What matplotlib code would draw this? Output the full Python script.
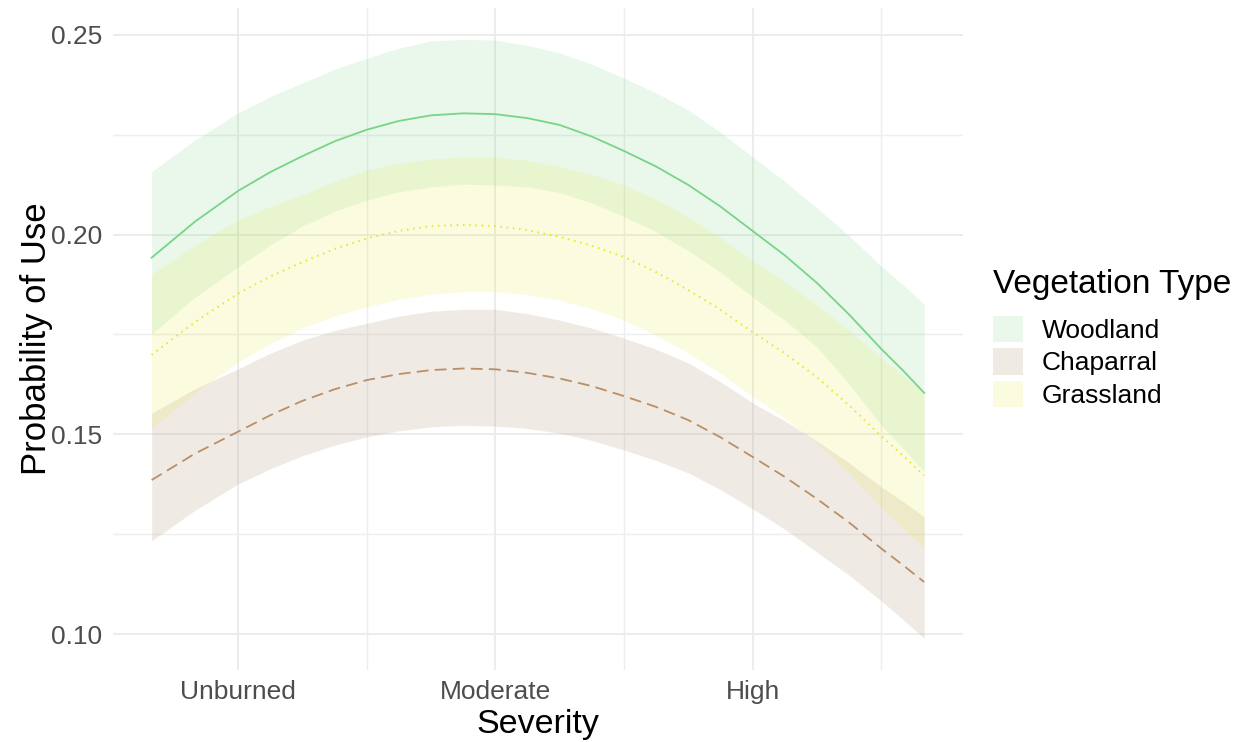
import matplotlib
matplotlib.use("Agg")
import matplotlib.pyplot as plt
from matplotlib.patches import Patch
from matplotlib.ticker import FixedLocator

plt.rcParams['font.family'] = ['Liberation Sans', 'DejaVu Sans']
plt.rcParams['lines.scale_dashes'] = False

# severity (1 = Unburned, 2 = Moderate, 3 = High)
severity = [0.664, 0.832, 1.0, 1.125, 1.25, 1.375, 1.5, 1.625, 1.75, 1.875, 2.0, 2.125, 2.25,
            2.375, 2.5, 2.625, 2.75, 2.875, 3.0, 3.125, 3.25, 3.375, 3.5, 3.583, 3.667]
tick_pos = [1, 2, 3]
tick_labels = ["Unburned", "Moderate", "High"]

# predicted probability of use and confidence band, per vegetation type
woodland_fit = [0.1942, 0.2032, 0.2109, 0.2156, 0.2196, 0.2233, 0.2262, 0.2284, 0.2298, 0.2303, 0.2301, 0.2291, 0.2274,
                0.2245, 0.2209, 0.2170, 0.2124, 0.2070, 0.2009, 0.1948, 0.1879, 0.1800, 0.1714, 0.1661, 0.1604]
woodland_hi = [0.2157, 0.2236, 0.2304, 0.2345, 0.2379, 0.2413, 0.2441, 0.2466, 0.2484, 0.2488, 0.2486, 0.2473, 0.2454,
               0.2426, 0.2391, 0.2354, 0.2311, 0.2256, 0.2194, 0.2133, 0.2066, 0.1997, 0.1921, 0.1875, 0.1826]
woodland_lo = [0.1751, 0.1843, 0.1919, 0.1974, 0.2021, 0.2058, 0.2086, 0.2107, 0.2119, 0.2126, 0.2124, 0.2119, 0.2105,
               0.2079, 0.2045, 0.2007, 0.1960, 0.1906, 0.1844, 0.1786, 0.1719, 0.1626, 0.1524, 0.1467, 0.1406]

chaparral_fit = [0.1386, 0.1452, 0.1507, 0.1548, 0.1584, 0.1613, 0.1636, 0.1651, 0.1661, 0.1665, 0.1663, 0.1654, 0.1640,
                 0.1621, 0.1596, 0.1569, 0.1536, 0.1493, 0.1444, 0.1394, 0.1339, 0.1280, 0.1215, 0.1174, 0.1131]
chaparral_hi = [0.1553, 0.1614, 0.1664, 0.1703, 0.1736, 0.1760, 0.1778, 0.1796, 0.1808, 0.1813, 0.1813, 0.1802, 0.1786,
                0.1766, 0.1741, 0.1713, 0.1679, 0.1632, 0.1579, 0.1534, 0.1484, 0.1429, 0.1369, 0.1333, 0.1294]
chaparral_lo = [0.1234, 0.1310, 0.1376, 0.1414, 0.1447, 0.1473, 0.1494, 0.1509, 0.1519, 0.1523, 0.1521, 0.1515, 0.1503,
                0.1485, 0.1461, 0.1435, 0.1404, 0.1362, 0.1314, 0.1263, 0.1206, 0.1148, 0.1084, 0.1038, 0.0990]

grassland_fit = [0.1699, 0.1781, 0.1852, 0.1895, 0.1931, 0.1964, 0.1990, 0.2009, 0.2021, 0.2024, 0.2021, 0.2011, 0.1994,
                 0.1972, 0.1944, 0.1906, 0.1861, 0.1812, 0.1756, 0.1703, 0.1643, 0.1573, 0.1496, 0.1448, 0.1397]
grassland_hi = [0.1900, 0.1973, 0.2036, 0.2070, 0.2099, 0.2133, 0.2161, 0.2178, 0.2189, 0.2194, 0.2194, 0.2185, 0.2170,
                0.2150, 0.2124, 0.2087, 0.2044, 0.1992, 0.1934, 0.1882, 0.1824, 0.1760, 0.1691, 0.1649, 0.1604]
grassland_lo = [0.1515, 0.1604, 0.1681, 0.1727, 0.1766, 0.1796, 0.1819, 0.1838, 0.1851, 0.1857, 0.1857, 0.1850, 0.1836,
                0.1814, 0.1786, 0.1748, 0.1704, 0.1653, 0.1596, 0.1541, 0.1479, 0.1402, 0.1318, 0.1268, 0.1215]

names = ["Woodland", "Chaparral", "Grassland"]
fits = [woodland_fit, chaparral_fit, grassland_fit]
his = [woodland_hi, chaparral_hi, grassland_hi]
los = [woodland_lo, chaparral_lo, grassland_lo]
line_colors = ["#78D486", "#B88F67", "#E6E62A"]
fill_colors = ["#78D486", "#AC9074", "#E6E62A"]
fill_alpha = [0.16, 0.18, 0.15]
styles = ["-", (0, (8.5, 4.5)), (0, (1.1, 3.4))]
widths = [1.3, 1.3, 1.4]

fig = plt.figure(figsize=(12.46, 7.42), dpi=100)
ax = fig.add_axes([0.0907, 0.097, 0.682, 0.892])

for fit, hi, lo, c, a in zip(fits, his, los, fill_colors, fill_alpha):
    ax.fill_between(severity, lo, hi, color=c, alpha=a, lw=0, zorder=2)
for fit, c, ls, lw in zip(fits, line_colors, styles, widths):
    ax.plot(severity, fit, color=c, linestyle=ls, lw=lw, zorder=3)

ax.set_xlim(0.514, 3.817)
ax.set_ylim(0.0911, 0.2566)

ax.xaxis.set_major_locator(FixedLocator(tick_pos))
ax.set_xticklabels(tick_labels)
ax.xaxis.set_minor_locator(FixedLocator([1.5, 2.5, 3.5]))
ax.yaxis.set_major_locator(FixedLocator([0.10, 0.15, 0.20, 0.25]))
ax.set_yticklabels(["0.10", "0.15", "0.20", "0.25"])
ax.yaxis.set_minor_locator(FixedLocator([0.125, 0.175, 0.225]))

ax.grid(which="major", color="#EBEBEB", lw=1.3, zorder=0)
ax.grid(which="minor", color="#EEEEEE", lw=1.0, zorder=0)
ax.set_axisbelow(True)
for s in ax.spines.values():
    s.set_visible(False)
ax.tick_params(which="both", length=0, labelsize=19, labelcolor="#4D4D4D", pad=7.5)

ax.set_xlabel("Severity", fontsize=24.5, labelpad=3)
ax.set_ylabel("Probability of Use", fontsize=25, labelpad=-1)

# legend: title as text, keys show the band colour only
fig.text(0.797, 0.616, "Vegetation Type", fontsize=24, ha="left", va="center")
handles = [Patch(facecolor=c, alpha=a, edgecolor="none") for c, a in zip(fill_colors, fill_alpha)]
leg = fig.legend(handles, names, loc="upper left", bbox_to_anchor=(0.797, 0.574),
                 frameon=False, fontsize=19, borderpad=0, borderaxespad=0,
                 handlelength=1.15, handleheight=1.15, handletextpad=0.7,
                 labelspacing=0.2)

fig.savefig("out.png", dpi=100)
